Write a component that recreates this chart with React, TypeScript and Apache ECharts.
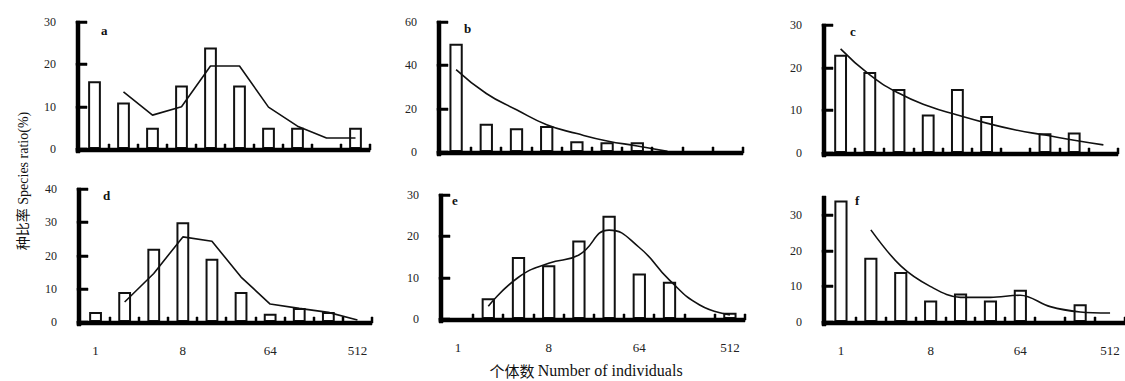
import React, { useEffect, useRef } from "react";
import * as echarts from "echarts";

// Bins (number of individuals, log2 classes)
const bins = ["1", "2", "4", "8", "16", "32", "64", "128", "256", "512"];
const panelLetters = ["a", "b", "c", "d", "e", "f"];

// Bar values (species ratio %)
const barsA = [16, 11, 5, 15, 24, 15, 5, 5, 0, 5];
const barsB = [50, 13, 11, 12, 5, 4.5, 4.5, 0, 0, 0];
const barsC = [23, 19, 15, 9, 15, 8.7, 0, 4.6, 4.8, 0];
const barsD = [3, 9, 22, 30, 19, 9, 2.5, 4.2, 3, 0];
const barsE = [0, 5, 15, 13, 19, 25, 11, 9, 0, 1.5];
const barsF = [34, 18, 14, 6, 8, 6, 9, 0, 5, 0];

// Fitted curve values
const lineA = [null, 13.5, 8, 10, 19.6, 19.6, 9.9, 5.4, 2.6, 2.6];
const lineB = [38, 27, 19.5, 12.6, 8.5, 5.1, 2.8, 0.3, null, null];
const lineC = [24.4, 18.3, 14, 11, 8.9, 7, 5.4, 4.2, 3, 1.9];
const lineD = [null, 6, 14.6, 25.6, 24.3, 13.5, 5.4, 4.1, 2.9, 0.6];
const lineE = [null, 3.1, 10.1, 13.5, 15.5, 21.5, 17.3, 9.4, 3.4, 1.0];
const lineF = [null, 25.8, 15.7, 9.9, 6.9, 6.9, 7.5, 4.3, 2.8, 2.5];

// Y axis ranges and tick steps
const yMaxes = [30, 60, 30, 40, 30, 35];
const yIntervals = [10, 20, 10, 10, 10, 10];

const xTitle = "个体数";
const xTitleEn = "Number of individuals";
const yTitle = "种比率 Species ratio(%)";

const SERIF = "'Liberation Serif', 'Noto Sans CJK SC', serif";
const INK = "#000";

export default function App() {
  const ref = useRef<HTMLDivElement>(null);

  useEffect(() => {
    if (!ref.current) return;
    const chart = echarts.init(ref.current, undefined, { renderer: "svg" });

    const bars = [barsA, barsB, barsC, barsD, barsE, barsF];
    const lines = [lineA, lineB, lineC, lineD, lineE, lineF];
    const smooths = [false, true, true, false, true, 0.35];

    const grids = [
      { left: 80, top: 22, width: 290, height: 127 },
      { left: 441, top: 22, width: 302, height: 130 },
      { left: 826, top: 25, width: 292, height: 128 },
      { left: 81, top: 189, width: 291, height: 133 },
      { left: 443, top: 195, width: 302, height: 124 },
      { left: 826, top: 197, width: 299, height: 125 },
    ];
    const letterPos = [
      [101, 30],
      [464, 28],
      [850, 31],
      [103, 195],
      [452, 200],
      [855, 200],
    ];

    const option: any = {
      animation: false,
      grid: grids.map((g) => ({ ...g, show: false })),
      xAxis: grids.map((_, i) => ({
        type: "category",
        gridIndex: i,
        data: bins,
        boundaryGap: true,
        axisLine: { show: false },
        axisTick: { show: false },
        axisLabel: {
          show: i >= 3,
          interval: 2,
          margin: 22,
          color: "#222",
          fontFamily: SERIF,
          fontSize: 13,
        },
        splitLine: { show: false },
      })),
      yAxis: grids.map((_, i) => ({
        type: "value",
        gridIndex: i,
        min: 0,
        max: yMaxes[i],
        interval: yIntervals[i],
        axisLine: { show: false },
        axisTick: { show: false },
        axisLabel: {
          margin: 24,
          color: "#222",
          fontFamily: SERIF,
          fontSize: 12,
          formatter: (v: number) => (v % yIntervals[i] === 0 ? String(v) : ""),
        },
        splitLine: { show: false },
      })),
      series: bars.flatMap((b, i) => [
        {
          type: "bar",
          xAxisIndex: i,
          yAxisIndex: i,
          data: b,
          barWidth: "44%",
          itemStyle: { color: "#fff", borderColor: "#111", borderWidth: 2 },
          z: 2,
        },
        {
          type: "line",
          xAxisIndex: i,
          yAxisIndex: i,
          data: lines[i],
          smooth: smooths[i],
          symbol: "none",
          showSymbol: false,
          connectNulls: false,
          lineStyle: { color: "#111", width: 1.6 },
          z: 3,
        },
      ]),
    };

    chart.setOption(option);

    const px = (finder: any, v: number): number => {
      const r: any = chart.convertToPixel(finder, v);
      return Array.isArray(r) ? Number(r[0]) : Number(r);
    };

    // Axis frames and ticks, positioned through the chart's own scales
    const axisGraphics: any[] = [];
    let n = 0;
    const box = (x: number, y: number, w: number, h: number) => ({
      type: "rect",
      id: "ax" + n++,
      z: 100,
      silent: true,
      shape: { x, y, width: w, height: h },
      style: { fill: INK, stroke: INK, lineWidth: 0.5 },
    });
    grids.forEach((_, i) => {
      const c0 = px({ xAxisIndex: i }, 0);
      const c1 = px({ xAxisIndex: i }, 1);
      const bw = c1 - c0;
      const left = Math.round(c0 - bw / 2);
      const right = Math.round(left + bw * bins.length);
      const bottom = Math.round(px({ yAxisIndex: i }, 0));
      const top = Math.round(px({ yAxisIndex: i }, yMaxes[i]));

      // y axis line
      axisGraphics.push(box(left - 4, top - 1, 4, bottom - top + 5));
      // x axis line
      axisGraphics.push(box(left - 4, bottom - 1, right - left + 4, 4));
      // y ticks (inside)
      for (let v = 0; v <= yMaxes[i]; v += yIntervals[i]) {
        const y = Math.round(px({ yAxisIndex: i }, v));
        axisGraphics.push(box(left - 4, y - 1, 11, 2.5));
      }
      // x ticks (inside) at band boundaries
      for (let k = 1; k <= bins.length; k++) {
        const x = Math.round(left + k * bw);
        axisGraphics.push(box(x - 1, bottom - 5, 2, 6));
      }
    });

    chart.setOption({
      graphic: [
        ...axisGraphics,
        ...panelLetters.map((t, i) => ({
          type: "text",
          id: "letter" + i,
          x: letterPos[i][0],
          y: letterPos[i][1],
          style: {
            text: t,
            fill: "#111",
            font: `bold 13px ${SERIF}`,
            textAlign: "left",
            textVerticalAlign: "middle",
          },
        })),
        {
          type: "text",
          id: "xtitle",
          x: 586,
          y: 370,
          style: {
            text: `{cn|${xTitle}} {en|${xTitleEn}}`,
            rich: {
              cn: { fontSize: 15, fontFamily: "'Noto Sans CJK SC', sans-serif", fill: "#111" },
              en: { fontSize: 16, fontFamily: SERIF, fill: "#111" },
            },
            fill: "#111",
            align: "center",
            verticalAlign: "middle",
          },
        },
        {
          type: "text",
          id: "ytitle",
          x: 23,
          y: 181,
          rotation: Math.PI / 2,
          style: {
            text: yTitle,
            fill: "#111",
            font: `14px ${SERIF}`,
            align: "center",
            verticalAlign: "middle",
          },
        },
      ],
    });

    return () => chart.dispose();
  }, []);

  return (
    <div
      ref={ref}
      style={{ position: "fixed", left: 0, top: 0, width: 1125, height: 381, background: "#fff" }}
    />
  );
}
